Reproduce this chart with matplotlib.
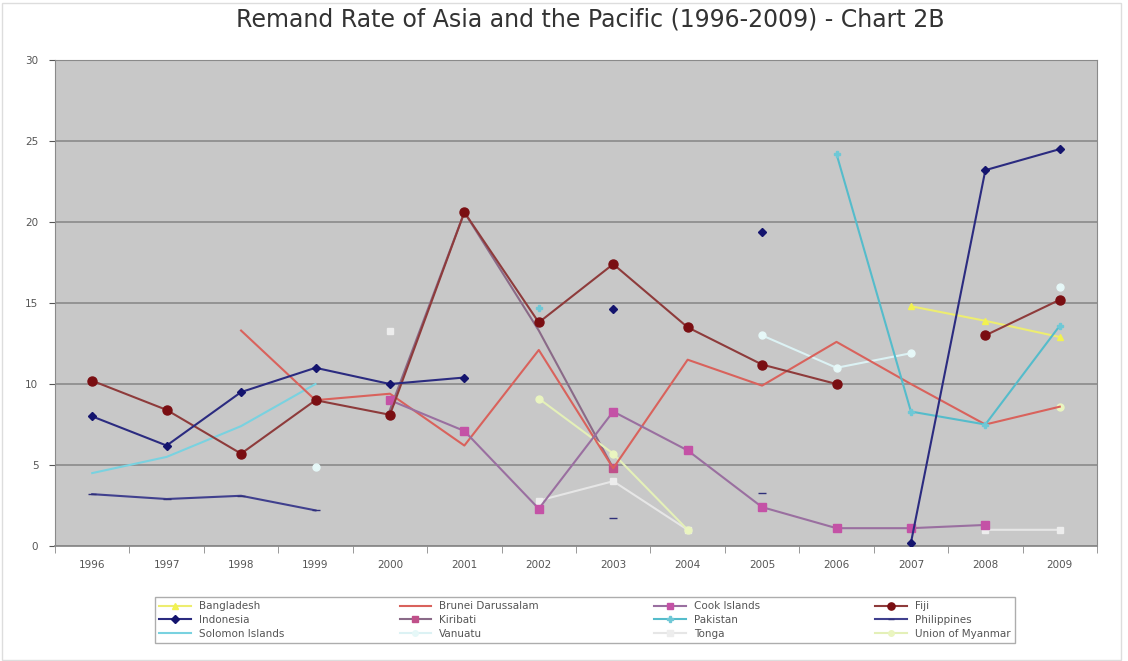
import numpy as np
import matplotlib.pyplot as plt
from matplotlib.patches import Rectangle

nan = np.nan

years = [1996, 1997, 1998, 1999, 2000, 2001, 2002, 2003, 2004, 2005, 2006, 2007, 2008, 2009]

bangladesh = [nan, nan, nan, nan, nan, nan, nan, nan, nan, nan, nan, 14.8, 13.9, 12.9]
brunei = [nan, nan, 13.3, 9.0, 9.4, 6.2, 12.1, 4.8, 11.5, 9.9, 12.6, 10.0, 7.5, 8.6]
cook_islands = [nan, nan, nan, nan, 9.0, 7.1, 2.3, 8.3, 5.9, 2.4, 1.1, 1.1, 1.3, nan]
fiji = [10.2, 8.4, 5.7, 9.0, 8.1, 20.6, 13.8, 17.4, 13.5, 11.2, 10.0, nan, 13.0, 15.2]
indonesia = [8.0, 6.2, 9.5, 11.0, 10.0, 10.4, nan, 14.6, nan, 19.4, nan, 0.2, 23.2, 24.5]
kiribati = [nan, nan, nan, nan, 8.4, 20.6, 13.3, 4.8, nan, nan, nan, nan, nan, nan]
pakistan = [nan, nan, nan, nan, nan, nan, 14.7, nan, nan, nan, 24.2, 8.3, 7.5, 13.6]
philippines = [3.2, 2.9, 3.1, 2.2, nan, nan, nan, 1.7, nan, 3.3, nan, nan, nan, nan]
solomon = [4.5, 5.5, 7.4, 10.0, nan, nan, nan, nan, nan, nan, nan, nan, nan, nan]
vanuatu = [nan, nan, nan, 4.9, nan, nan, nan, nan, nan, 13.0, 11.0, 11.9, nan, 16.0]
tonga = [nan, nan, nan, nan, 13.3, nan, 2.8, 4.0, 1.0, nan, nan, nan, 1.0, 1.0]
myanmar = [nan, nan, nan, nan, nan, nan, 9.1, 5.7, 1.0, nan, nan, nan, nan, 8.6]

# nome, valores, cor da linha, marcador, cor do marcador, tamanho, ordem de desenho
series = [
    ("Bangladesh", bangladesh, "#EDED70", "^", "#F2F250", 5, 3),
    ("Brunei Darussalam", brunei, "#D9625C", "", None, 0, 3),
    ("Cook Islands", cook_islands, "#9A6FA0", "s", "#C452A6", 6, 3),
    ("Fiji", fiji, "#8E3B3B", "o", "#7A0E12", 6.5, 4),
    ("Indonesia", indonesia, "#2B2B80", "D", "#14146E", 4.5, 4),
    ("Kiribati", kiribati, "#8A6A88", "s", "#C0508A", 6, 2),
    ("Pakistan", pakistan, "#55BCCB", "P", "#6FC8D6", 5, 3),
    ("Philippines", philippines, "#40408E", "_", "#30307A", 6, 3),
    ("Solomon Islands", solomon, "#79D2E0", "", None, 0, 2),
    ("Vanuatu", vanuatu, "#DCF2F4", "o", "#E6F8F8", 5, 2),
    ("Tonga", tonga, "#E6E6E6", "s", "#EDEDED", 5, 2),
    ("Union of Myanmar", myanmar, "#E4F0B8", "o", "#EAF5C0", 5, 2),
]

fig = plt.figure(figsize=(11.28, 6.61), dpi=100)
fig.patch.set_facecolor("white")
ax = fig.add_axes([55 / 1128, 1 - 546 / 661, (1097 - 55) / 1128, (546 - 60) / 661])
ax.set_facecolor("#C8C8C8")

x = np.arange(len(years))
handles = []
for nome, valores, cor, marcador, cor_marcador, tam, z in series:
    extra = {}
    if nome == "Kiribati":
        extra["markevery"] = [7]
    (h,) = ax.plot(
        x,
        valores,
        color=cor,
        linewidth=1.5,
        marker=marcador if marcador else None,
        markersize=tam,
        markerfacecolor=cor_marcador,
        markeredgecolor=cor_marcador,
        label=nome,
        zorder=z,
        **extra,
    )
    handles.append(h)

ax.set_xlim(-0.5, len(years) - 0.5)
ax.set_ylim(0, 30)
ax.set_yticks(range(0, 31, 5))
ax.set_xticks(x)
ax.set_xticklabels([str(a) for a in years])
ax.set_xticks(np.arange(-0.5, len(years), 1), minor=True)
ax.tick_params(axis="x", which="major", length=0, labelsize=7.5, colors="#555555", pad=10)
ax.tick_params(axis="x", which="minor", length=5, color="#888888")
ax.tick_params(axis="y", length=4, labelsize=7.5, colors="#555555", pad=8)
ax.grid(True, axis="y", color="#8A8A8A", linewidth=1.2)
ax.set_axisbelow(True)
for lado in ["top", "right", "left", "bottom"]:
    ax.spines[lado].set_color("#8A8A8A")
ax.spines["bottom"].set_linewidth(1.3)

fig.text(
    0.523,
    1 - 19 / 661,
    "Remand Rate of Asia and the Pacific (1996-2009) - Chart 2B",
    ha="center",
    va="center",
    fontsize=17,
    color="#333333",
)

ordem = [0, 4, 8, 1, 5, 9, 2, 6, 10, 3, 7, 11]
leg = fig.legend(
    [handles[i] for i in ordem],
    [series[i][0] for i in ordem],
    ncol=4,
    loc="upper left",
    mode="expand",
    bbox_to_anchor=(150 / 1128, 1 - 660 / 661, (1020 - 150) / 1128, (660 - 592) / 661),
    fontsize=7.5,
    frameon=True,
    fancybox=False,
    edgecolor="#999999",
    handlelength=3,
    markerscale=0.8,
    borderpad=0.4,
    labelspacing=0.35,
)
for t in leg.get_texts():
    t.set_color("#555555")

fig.patches.append(
    Rectangle((0.002, 0.002), 0.992, 0.994, transform=fig.transFigure,
              fill=False, edgecolor="#DDDDDD", linewidth=1)
)

plt.savefig("out.png", dpi=100)
